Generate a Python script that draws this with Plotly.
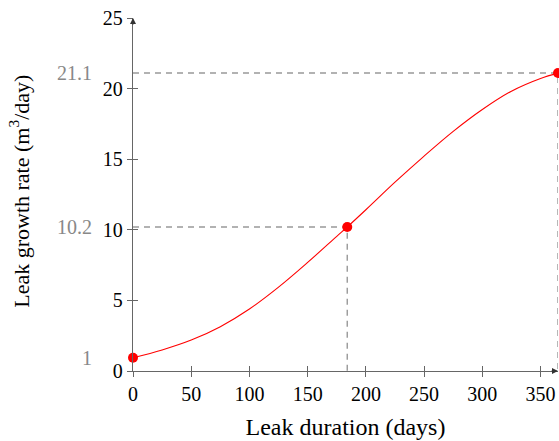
import plotly.graph_objects as go

days = [0, 25, 50, 75, 100, 125, 150, 175, 184, 200, 225, 250, 275, 300, 325, 350, 365]
rate = [0.94, 1.49, 2.19, 3.14, 4.39, 5.94, 7.69, 9.54, 10.2, 11.42, 13.37, 15.22, 16.97, 18.52, 19.82, 20.72, 21.1]

marked_days = [0, 184, 365]
marked_rate = [0.94, 10.2, 21.1]
marked_labels = ["1", "10.2", "21.1"]

x_ticks = [0, 50, 100, 150, 200, 250, 300, 350]
y_ticks = [0, 5, 10, 15, 20, 25]
x_range = [0, 365]
y_range = [0, 25]

FONT = "Liberation Serif"
AXIS_COLOR = "#666666"
GUIDE_COLOR = "#999999"

fig = go.Figure()

# dashed guide lines for the middle and end points
for d, r in zip(marked_days[1:], marked_rate[1:]):
    fig.add_trace(go.Scatter(
        x=[x_range[0], d, d], y=[r, r, y_range[0]], mode="lines",
        line=dict(color=GUIDE_COLOR, width=1.4, dash="6px,5px"),
        hoverinfo="skip", showlegend=False, cliponaxis=False))

fig.add_trace(go.Scatter(
    x=days, y=rate, mode="lines", line=dict(color="red", width=1.1, shape="spline"),
    showlegend=False, cliponaxis=False))
fig.add_trace(go.Scatter(
    x=marked_days, y=marked_rate, mode="markers",
    marker=dict(color="red", size=10), showlegend=False, cliponaxis=False))

# gray value labels on the left
for r, lab in zip(marked_rate, marked_labels):
    fig.add_annotation(x=-0.091, xref="paper", y=r, yref="y", text=lab,
                       showarrow=False, xanchor="right", yanchor="middle",
                       font=dict(family=FONT, size=20, color="#888888"))

# y-axis title as rotated annotation
fig.add_annotation(x=-0.268, xref="paper", y=0.508, yref="paper",
                   text="Leak growth rate (m<sup>3</sup>/day)", textangle=-90,
                   showarrow=False, xanchor="center", yanchor="middle",
                   font=dict(family=FONT, size=22, color="black"))

# axis arrows
fig.add_annotation(x=x_range[1], y=y_range[0], xref="x", yref="y", ax=-8, ay=0,
                   axref="pixel", ayref="pixel", text="", showarrow=True,
                   arrowhead=2, arrowsize=1, arrowwidth=1.2, arrowcolor="#333333")
fig.add_annotation(x=x_range[0], y=y_range[1], xref="x", yref="y", ax=0, ay=8,
                   axref="pixel", ayref="pixel", text="", showarrow=True,
                   arrowhead=2, arrowsize=1, arrowwidth=1.2, arrowcolor="#333333")

fig.update_layout(
    width=559, height=441,
    margin=dict(l=133, r=1, t=18, b=70),
    plot_bgcolor="white", paper_bgcolor="white",
    font=dict(family=FONT, size=20, color="black"),
    xaxis=dict(range=x_range, tickvals=x_ticks, showgrid=False, zeroline=False,
               showline=True, linecolor=AXIS_COLOR, linewidth=1.3,
               ticks="outside", ticklen=5, tickcolor=AXIS_COLOR, tickwidth=1,
               title=dict(text="Leak duration (days)", standoff=14),
               tickfont=dict(size=20)),
    yaxis=dict(range=y_range, tickvals=y_ticks, showgrid=False, zeroline=False,
               showline=True, linecolor=AXIS_COLOR, linewidth=1.3,
               ticks="outside", ticklen=5, tickcolor=AXIS_COLOR, tickwidth=1,
               tickfont=dict(size=20)),
    xaxis2=dict(range=x_range, tickvals=x_ticks, overlaying="x", showticklabels=False,
                showgrid=False, zeroline=False, ticks="inside", ticklen=5,
                tickcolor=AXIS_COLOR, side="bottom", anchor="y"),
    yaxis2=dict(range=y_range, tickvals=y_ticks, overlaying="y", showticklabels=False,
                showgrid=False, zeroline=False, ticks="inside", ticklen=5,
                tickcolor=AXIS_COLOR, side="left", anchor="x"),
)
# dummy trace to activate secondary axes for inside ticks
fig.add_trace(go.Scatter(x=[None], y=[None], xaxis="x2", yaxis="y2", showlegend=False))

fig.write_html("out.html")
